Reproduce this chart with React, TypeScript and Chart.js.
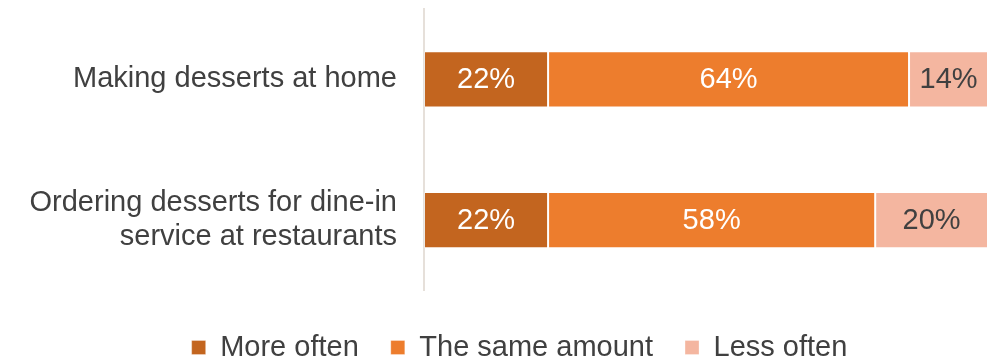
import React, { useEffect, useRef } from "react";
import { Chart, registerables } from "chart.js";

Chart.register(...registerables);

const categories: (string | string[])[] = [
  "Making desserts at home",
  ["Ordering desserts for dine-in", "service at restaurants"],
];
const seriesNames = ["More often", "The same amount", "Less often"];
const moreOften = [22, 22];
const sameAmount = [64, 58];
const lessOften = [14, 20];
const seriesColors = ["#C3651F", "#ED7D2D", "#F4B6A0"];
const labelColors = ["#FFFFFF", "#FFFFFF", "#404040"];

const FONT = "'Liberation Sans', Arial, sans-serif";
const FONT_SIZE = 29;

const valueLabels = {
  id: "valueLabels",
  afterDatasetsDraw(chart: any) {
    const ctx = chart.ctx;
    ctx.save();
    ctx.font = `${FONT_SIZE}px ${FONT}`;
    ctx.textAlign = "center";
    ctx.textBaseline = "middle";
    chart.data.datasets.forEach((ds: any, di: number) => {
      const meta = chart.getDatasetMeta(di);
      meta.data.forEach((bar: any, i: number) => {
        const x = (bar.x + bar.base) / 2;
        ctx.fillStyle = labelColors[di];
        ctx.fillText(ds.data[i] + "%", x, bar.y + 1);
      });
    });
    ctx.restore();
  },
};

export default function App() {
  const ref = useRef<HTMLCanvasElement>(null);
  useEffect(() => {
    document.body.style.margin = "0";
    document.body.style.overflow = "hidden";
    const chart = new Chart(ref.current!, {
      type: "bar",
      data: {
        labels: categories,
        datasets: [moreOften, sameAmount, lessOften].map((d, i) => ({
          label: seriesNames[i],
          data: d,
          backgroundColor: seriesColors[i],
          borderColor: "rgba(255,255,255,0.3)",
          borderWidth: 1,
          borderSkipped: false,
          categoryPercentage: 0.8,
          barPercentage: 0.4983,
        })),
      },
      options: {
        indexAxis: "y",
        animation: false,
        responsive: false,
        maintainAspectRatio: false,
        layout: { padding: { top: 9, right: 7, left: 51, bottom: 0 } },
        scales: {
          x: { stacked: true, min: 0, max: 100, display: false },
          y: {
            stacked: true,
            grid: { display: false, drawTicks: false },
            border: { display: true, color: "#E6E0DA", width: 2 },
            ticks: {
              color: "#404040",
              padding: 27,
              font: { size: FONT_SIZE, family: FONT, lineHeight: 1.15 },
            },
            afterFit(scale: any) {
              scale.width = 373;
              scale.paddingTop = 0;
              scale.paddingBottom = 0;
              scale._computeLabelArea = () => undefined;
            },
          },
        },
        plugins: {
          tooltip: { enabled: false },
          legend: {
            position: "bottom",
            title: {
              display: true,
              text: "",
              font: { size: 10, lineHeight: 1 },
              padding: { top: 0.5, bottom: 0 },
            },
            labels: {
              color: "#404040",
              boxWidth: 14,
              boxHeight: 14,
              padding: 32,
              font: { size: FONT_SIZE, family: FONT },
            },
          },
        },
      },
      plugins: [valueLabels],
    });
    return () => chart.destroy();
  }, []);
  return (
    <div style={{ width: 995, height: 372 }}>
      <canvas ref={ref} width={995} height={372} />
    </div>
  );
}
